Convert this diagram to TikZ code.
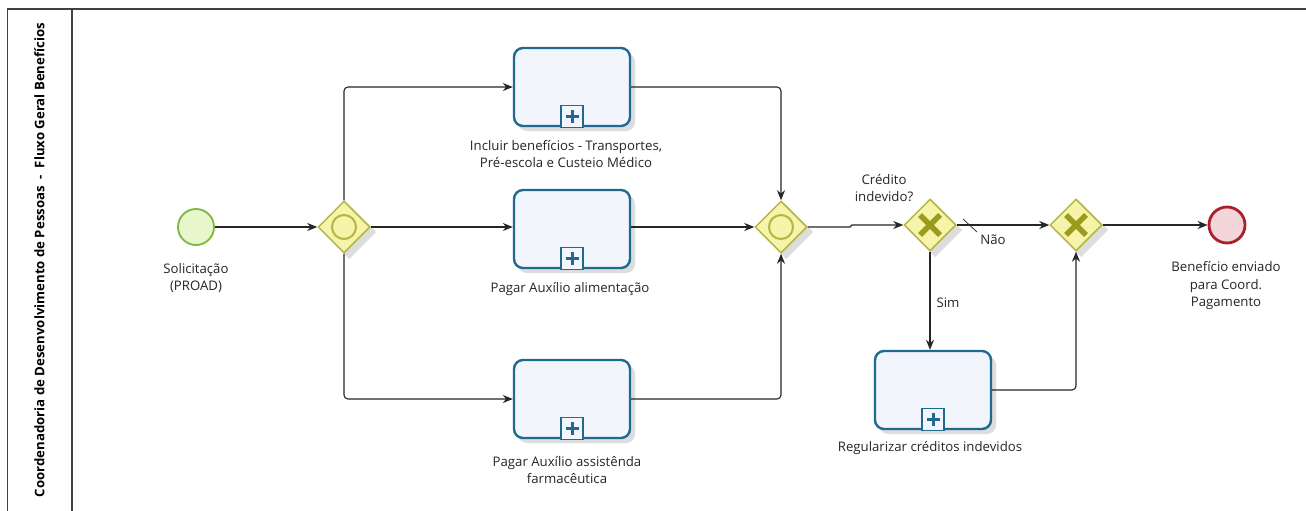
\documentclass[tikz,border=0pt]{standalone}
\usepackage{fontspec}
\setmainfont{Open Sans}
\usetikzlibrary{arrows.meta,shapes.geometric,calc}
\definecolor{taskbd}{HTML}{1F6A8E}
\definecolor{taskfill}{HTML}{F2F5FC}
\definecolor{gwfill}{HTML}{F6F4A8}
\definecolor{gwbd}{HTML}{B5B544}
\definecolor{gwmark}{HTML}{9A9A1C}
\definecolor{stfill}{HTML}{E8F6CC}
\definecolor{stbd}{HTML}{7CB83C}
\definecolor{enfill}{HTML}{F4D6D8}
\definecolor{enbd}{HTML}{A8202C}
\definecolor{shadowc}{HTML}{DDDDDD}
\tikzset{
  lbl/.style={font=\fontsize{13.2}{17.5}\selectfont, align=center, text=black!85, inner sep=0pt},
  taskbox/.style={draw=taskbd, line width=2.4pt, fill=taskfill, rounded corners=9pt,
    minimum width=116pt, minimum height=78pt, inner sep=0pt},
  gate/.style={diamond, draw=gwbd, line width=1.5pt, fill=gwfill, minimum width=52pt,
    minimum height=52pt, inner sep=0pt, aspect=1},
  startev/.style={circle, draw=stbd, line width=1.8pt, fill=stfill, minimum size=36pt, inner sep=0pt},
  endev/.style={circle, draw=enbd, line width=2.8pt, fill=enfill, minimum size=36pt, inner sep=0pt},
  flow/.style={draw=black!85, line width=1.1pt, -{Stealth[length=10pt,width=8pt]}, rounded corners=4pt},
}
\newcommand{\subproc}[1]{%
  \draw[taskbd, line width=1.3pt, fill=taskfill] ($(#1.south)+(-11,0)$) rectangle ($(#1.south)+(11,-22)$);
  \fill[taskbd] ($(#1.south)+(-6.5,-12.5)$) rectangle ($(#1.south)+(6.5,-9.5)$);
  \fill[taskbd] ($(#1.south)+(-1.5,-17.5)$) rectangle ($(#1.south)+(1.5,-4.5)$);
}
\begin{document}
\begin{tikzpicture}[x=1pt,y=-1pt]
\useasboundingbox (0,0) rectangle (1306,511);
\fill[white] (0,0) rectangle (1306,511);
% lane frame
\draw[black!75, line width=1.5pt] (1306,9) -- (7.5,9) -- (7.5,520);
\draw[black!75, line width=1.5pt] (72,9) -- (72,520);
\node[rotate=90, font=\bfseries\fontsize{13.2}{15}\selectfont, inner sep=0pt] (lane) at (39.5,260)
  {Coordenadoria de Desenvolvimento de Pessoas\ \ -\ \ Fluxo Geral Benefícios};

% shadows
\foreach \x/\y in {572/87, 572/229, 572/399, 933/390}{
  \fill[shadowc, rounded corners=9pt] (\x-54,\y-34) rectangle (\x+63,\y+44);
}
\foreach \x/\y in {344/227, 781/227, 930/225, 1076/225}{
  \fill[shadowc] (\x+5,\y-22) -- (\x+32,\y+5) -- (\x+5,\y+32) -- (\x-22,\y+5) -- cycle;
}

% nodes
\node[startev] (start) at (196,227) {};
\node[gate] (g1) at (344,227) {};
\draw[gwbd, line width=2pt] (g1) circle (12pt);
\node[taskbox] (t1) at (572,87) {};
\node[taskbox] (t2) at (572,229) {};
\node[taskbox] (t3) at (572,399) {};
\node[gate] (g2) at (781,227) {};
\draw[gwbd, line width=2pt] (g2) circle (12pt);
\node[gate] (g3) at (930,225) {};
\node[gate] (g4) at (1076,225) {};
\foreach \g in {g3,g4}{
  \draw[gwmark, line width=5.5pt] ($(\g)+(-10,-10)$) -- ($(\g)+(10,10)$);
  \draw[gwmark, line width=5.5pt] ($(\g)+(-10,10)$) -- ($(\g)+(10,-10)$);
}
\node[taskbox] (t4) at (933,390) {};
\node[endev] (end) at (1227,225) {};
\subproc{t1}\subproc{t2}\subproc{t3}\subproc{t4}

% labels
\node[lbl] (lstart) at (196,278) {Solicitação\\(PROAD)};
\node[lbl] (lt1) at (566,154) {Incluir benefícios - Transportes,\\Pré-escola e Custeio Médico};
\node[lbl] (lt2) at (570,289) {Pagar Auxílio alimentação};
\node[lbl] (lt3) at (567,470) {Pagar Auxílio assistênda\\farmacêutica};
\node[lbl] (lg3) at (884,188) {Crédito\\indevido?};
\node[lbl] (lt4) at (930,448) {Regularizar créditos indevidos};
\node[lbl] (lend) at (1226,286) {Benefício enviado\\para Coord.\\Pagamento};
\node[lbl] (lnao) at (993,240) {Não};
\node[lbl] (lsim) at (948,303) {Sim};

% flows
\draw[flow] (start) -- (g1);
\draw[flow] (g1.north) |- (t1.west);
\draw[flow] (g1) -- (t2.west |- g1);
\draw[flow] (g1.south) |- (t3.west);
\draw[flow] (t1.east) -| (g2.north);
\draw[flow] (t2.east |- g2) -- (g2);
\draw[flow] (t3.east) -| (g2.south);
\coordinate (j1) at (850,227);
\coordinate (j2) at (852,225);
\draw[flow, rounded corners=0pt] (g2.east) -- (j1) -- (j2) -- (g3.west);
\draw[flow] (g3) -- (g4);
\draw[black!85, line width=0.7pt] (963,219) -- (977,232);
\draw[flow] (g3.south) -- (t4.north -| g3);
\draw[flow] (t4.east) -| (g4.south);
\draw[flow] (g4) -- (end);
\end{tikzpicture}
\end{document}
